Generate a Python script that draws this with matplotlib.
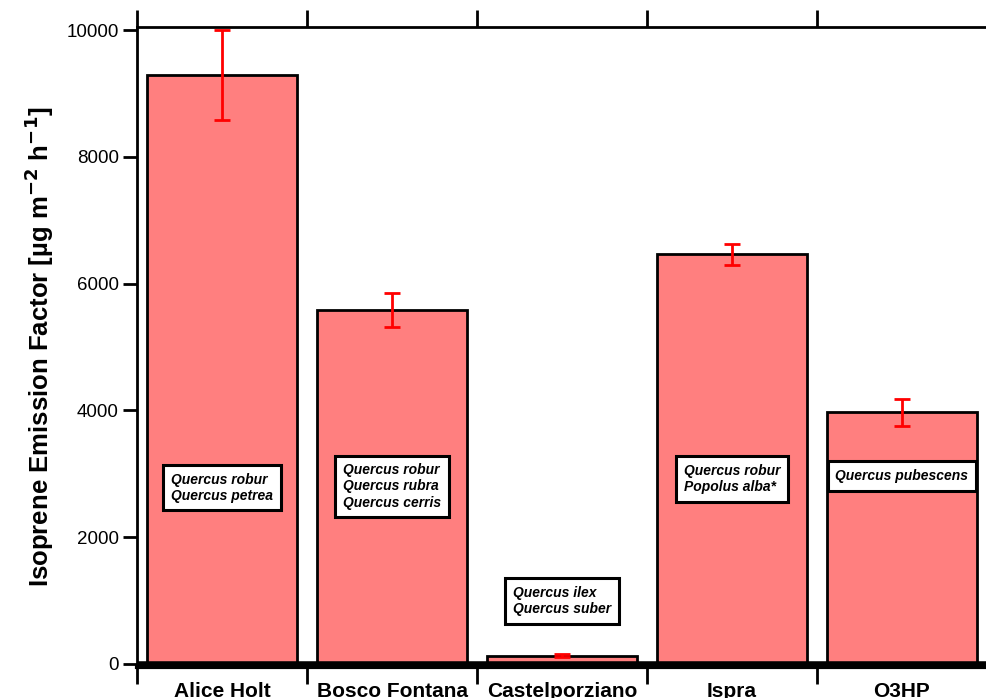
import matplotlib.pyplot as plt
import numpy as np

plt.rcParams['font.family'] = ['Liberation Sans', 'DejaVu Sans']

sites = ["Alice Holt", "Bosco Fontana", "Castelporziano", "Ispra", "O3HP"]
emission = [9290, 5580, 130, 6460, 3970]
emission_err = [705, 270, 20, 165, 215]
species = [
    "Quercus robur\nQuercus petrea",
    "Quercus robur\nQuercus rubra\nQuercus cerris",
    "Quercus ilex\nQuercus suber",
    "Quercus robur\nPopolus alba*",
    "Quercus pubescens",
]
species_y = [2780, 2800, 990, 2920, 2965]

fig = plt.figure(figsize=(9.86, 6.98), dpi=100)
ax = fig.add_axes([0.139, 0.0444, 0.862, 0.917])

x = np.arange(len(sites))
ax.bar(x, emission, width=0.88, color='#FF7F7F', edgecolor='black', linewidth=2, zorder=2)
ax.errorbar(x, emission, yerr=emission_err, fmt='none', ecolor='red',
            elinewidth=2, capsize=5.5, capthick=2, zorder=3)
ax.axhline(0, color='black', linewidth=4, zorder=4)

for xi, txt, yi in zip(x, species, species_y):
    ax.text(xi, yi, txt, ha='center', va='center', multialignment='left',
            fontsize=10, fontweight='bold', fontstyle='italic', linespacing=1.2,
            zorder=5,
            bbox=dict(boxstyle='square,pad=0.55', facecolor='white',
                      edgecolor='black', linewidth=2.2))

ax.set_xlim(-0.5, 4.5)
ax.set_ylim(-50, 10050)
ax.set_yticks([0, 2000, 4000, 6000, 8000, 10000])
ax.tick_params(axis='y', direction='out', length=10, width=2, labelsize=13.5, pad=3)

ax.set_xticks(x)
ax.set_xticklabels(sites, fontsize=15, fontweight='bold')
ax.set_xticks(np.arange(-0.5, 5, 1), minor=True)
ax.tick_params(axis='x', which='major', length=0, pad=11)
ax.tick_params(axis='x', which='minor', direction='out', length=12, width=2,
               top=True, bottom=True)

for side in ['left', 'top', 'bottom']:
    ax.spines[side].set_linewidth(2)
ax.spines['bottom'].set_linewidth(3)
ax.spines['right'].set_visible(False)

ax.set_ylabel("Isoprene Emission Factor [µg m$^{\\mathbf{-2}}$ h$^{\\mathbf{-1}}$]",
              fontsize=18.5, fontweight='bold', labelpad=8)

fig.savefig("out.png", dpi=100)
